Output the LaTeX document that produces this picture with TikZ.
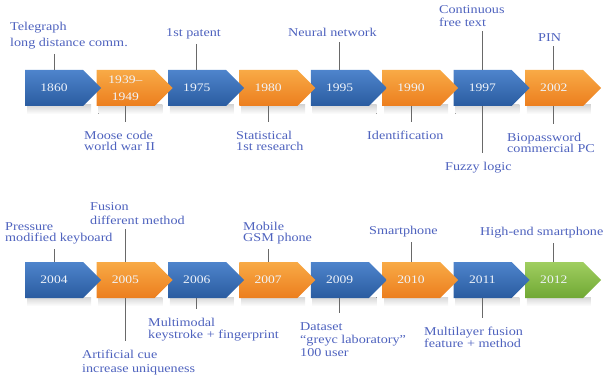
\documentclass[tikz,border=0pt]{standalone}
\usepackage{fontspec}
\setmainfont{Liberation Serif}[FakeStretch=1.18]
\usetikzlibrary{shapes.symbols}
\definecolor{lblc}{RGB}{78,98,190}
\definecolor{blueT}{RGB}{78,132,204}
\definecolor{blueB}{RGB}{42,92,160}
\definecolor{orT}{RGB}{248,170,70}
\definecolor{orB}{RGB}{236,126,30}
\definecolor{grT}{RGB}{160,206,96}
\definecolor{grB}{RGB}{112,168,52}
\definecolor{tickc}{RGB}{105,105,105}
\definecolor{yrc}{RGB}{240,244,250}
\pgfdeclarelayer{bg}\pgfsetlayers{bg,main}
\tikzset{
 chev/.style={signal, signal to=east, signal pointer angle=90, minimum width=76pt, minimum height=36pt, inner sep=0pt, draw=none, anchor=west},
 bluech/.style={chev, top color=blueT, bottom color=blueB},
 orch/.style={chev, top color=orT, bottom color=orB},
 grch/.style={chev, top color=grT, bottom color=grB},
 yr/.style={text=yrc, font=\fontsize{11.5}{14}\selectfont, align=center, inner sep=0pt},
 lbl/.style={text=lblc, font=\fontsize{12}{#1}\selectfont, align=left, inner sep=0pt, anchor=north west},
 lbl/.default=13,
 tickup/.style={draw=tickc, line width=1pt, shorten <=5pt},
 tickdn/.style={draw=tickc, line width=1pt, shorten >=9pt},
 shadowfill/.style={top color=black!16, bottom color=white, draw=none},
}
\begin{document}
\begin{tikzpicture}[x=1pt,y=-1pt]
\useasboundingbox (0,0) rectangle (604,379);
% shadows
\begin{pgfonlayer}{bg}
\foreach \s in {25,96.4,167.8,239.2,310.6,382,453.4,524.8}{
  \fill[shadowfill] (\s+2,105) rectangle (\s+66,114);
  \fill[shadowfill] (\s+2,297) rectangle (\s+66,306);
}
\end{pgfonlayer}
% row 1 chevrons (right to left so tips overlap)
\node[orch]   (c8) at (524.8,88) {};
\node[bluech] (c7) at (453.4,88) {};
\node[orch]   (c6) at (382,88) {};
\node[bluech] (c5) at (310.6,88) {};
\node[orch]   (c4) at (239.2,88) {};
\node[bluech] (c3) at (167.8,88) {};
\node[orch]   (c2) at (96.4,88) {};
\node[bluech] (c1) at (25,88) {};
\node[yr] (y1) at ([xshift=29pt]c1.west) {1860};
\node[yr] (y2) at ([xshift=29pt]c2.west) {1939–\\[3pt]1949};
\node[yr] (y3) at ([xshift=29pt]c3.west) {1975};
\node[yr] (y4) at ([xshift=29pt]c4.west) {1980};
\node[yr] (y5) at ([xshift=29pt]c5.west) {1995};
\node[yr] (y6) at ([xshift=29pt]c6.west) {1990};
\node[yr] (y7) at ([xshift=29pt]c7.west) {1997};
\node[yr] (y8) at ([xshift=29pt]c8.west) {2002};
% row 2 chevrons
\node[grch]   (d8) at (524.8,280) {};
\node[bluech] (d7) at (453.4,280) {};
\node[orch]   (d6) at (382,280) {};
\node[bluech] (d5) at (310.6,280) {};
\node[orch]   (d4) at (239.2,280) {};
\node[bluech] (d3) at (167.8,280) {};
\node[orch]   (d2) at (96.4,280) {};
\node[bluech] (d1) at (25,280) {};
\node[yr] (z1) at ([xshift=29pt]d1.west) {2004};
\node[yr] (z2) at ([xshift=29pt]d2.west) {2005};
\node[yr] (z3) at ([xshift=29pt]d3.west) {2006};
\node[yr] (z4) at ([xshift=29pt]d4.west) {2007};
\node[yr] (z5) at ([xshift=29pt]d5.west) {2009};
\node[yr] (z6) at ([xshift=29pt]d6.west) {2010};
\node[yr] (z7) at ([xshift=29pt]d7.west) {2011};
\node[yr] (z8) at ([xshift=29pt]d8.west) {2012};
% row 1 labels
\node[lbl=15.5] (l1) at (10,22) {Telegraph\\long distance comm.};
\node[lbl] (l2) at (166,28) {1st patent};
\node[lbl] (l3) at (288,28) {Neural network};
\node[lbl=13] (l4) at (439,5) {Continuous\\free text};
\node[lbl] (l5) at (538,33) {PIN};
\node[lbl=11] (l6) at (84,131) {Moose code\\world war II};
\node[lbl=11] (l7) at (236,131) {Statistical\\1st research};
\node[lbl] (l8) at (367,131) {Identification};
\node[lbl] (l9) at (445,162) {Fuzzy logic};
\node[lbl=11] (l10) at (507,133) {Biopassword\\commercial PC};
% row 2 labels
\node[lbl=11.5] (m1) at (5,222) {Pressure\\modified keyboard};
\node[lbl=14] (m2) at (90,202) {Fusion\\different method};
\node[lbl=11] (m3) at (243,222) {Mobile\\GSM phone};
\node[lbl] (m4) at (369,226) {Smartphone};
\node[lbl] (m5) at (480,227) {High-end smartphone};
\node[lbl=14] (m6) at (82,350) {Artificial cue\\increase uniqueness};
\node[lbl=12] (m7) at (148,318) {Multimodal\\keystroke + fingerprint};
\node[lbl=13] (m8) at (300,322) {Dataset\\“greyc laboratory”\\100 user};
\node[lbl=11] (m9) at (424,327) {Multilayer fusion\\feature + method};
% connectors row 1
\draw[tickup] (l1.south -| y1) -- (c1.north -| y1);
\draw[tickup] (l2.south -| y3) -- (c3.north -| y3);
\draw[tickup] (l3.south -| y5) -- (c5.north -| y5);
\draw[tickup] (l4.south -| y7) -- (c7.north -| y7);
\draw[tickup] (l5.south -| y8) -- (c8.north -| y8);
\draw[tickdn] (c2.south -| y2) -- (l6.north -| y2);
\draw[tickdn] (c4.south -| y4) -- (l7.north -| y4);
\draw[tickdn] (c6.south -| y6) -- (l8.north -| y6);
\draw[tickdn] (c7.south -| y7) -- (l9.north -| y7);
\draw[tickdn] (c8.south -| y8) -- (l10.north -| y8);
% connectors row 2
\draw[tickup] (m1.south -| z1) -- (d1.north -| z1);
\draw[tickup] (m2.south -| z2) -- (d2.north -| z2);
\draw[tickup] (m3.south -| z4) -- (d4.north -| z4);
\draw[tickup] (m4.south -| z6) -- (d6.north -| z6);
\draw[tickup] (m5.south -| z8) -- (d8.north -| z8);
\draw[tickdn] (d2.south -| z2) -- (m6.north -| z2);
\draw[tickdn] (d3.south -| z3) -- (m7.north -| z3);
\draw[tickdn] (d5.south -| z5) -- (m8.north -| z5);
\draw[tickdn] (d7.south -| z7) -- (m9.north -| z7);
\end{tikzpicture}
\end{document}
